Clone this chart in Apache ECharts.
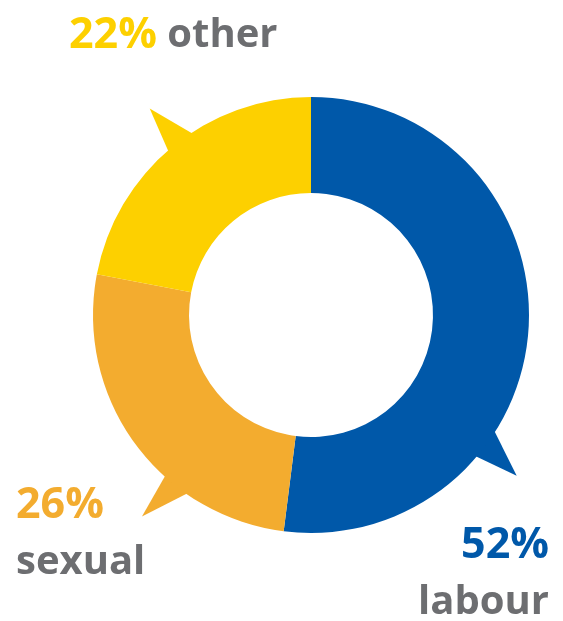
<!DOCTYPE html>
<html><head><meta charset="utf-8">
<script src="https://cdn.jsdelivr.net/npm/echarts@6/dist/echarts.min.js"></script>
<style>html,body{margin:0;padding:0;background:#fff}#c{width:563px;height:621px}</style>
</head><body><div id="c"></div>
<script>
const categories = ['labour', 'sexual', 'other'];
const values = [52, 26, 22];
const percentLabels = ['52%', '26%', '22%'];

const colors = ['#0058a9', '#f3ac2f', '#fdd000'];
const textGray = '#6d6e71';
const cx = 311, cy = 315, rIn = 122, rOut = 218;
// label anchor [x, y, align, template]
const labelPos = [
  [549, 517, 'right', '{v|P}\n{n|N}'],
  [16, 477, 'left', '{v|P}\n{n|N}'],
  [69, 7, 'left', '{v|P}{n| N}']
];
// speech-bubble tails: [base angle 1, base angle 2, tip angle, tip radius] (degrees, math convention)
const tails = [
  [-31.5, -41, -38, 261],
  [-132.5, -124, -130, 263],
  [131.5, 122.5, 128, 262]
];

const chart = echarts.init(document.getElementById('c'));
function pt(a, r) { const t = a * Math.PI / 180; return [cx + r * Math.cos(t), cy - r * Math.sin(t)]; }
const graphics = tails.map((t, i) => ({
  type: 'polygon', z: 1, silent: true,
  shape: { points: [pt(t[0], rOut - 6), pt(t[2], t[3]), pt(t[1], rOut - 6)] },
  style: { fill: colors[i] }
}));
const font = 'Open Sans';
categories.forEach((c, i) => {
  const l = labelPos[i];
  graphics.push({
    type: 'text', z: 5, silent: true, x: l[0], y: l[1],
    style: {
      text: l[3].replace('P', percentLabels[i]).replace('N', c),
      align: l[2], verticalAlign: 'top',
      rich: {
        v: { fontFamily: font, fontWeight: 'bold', fontSize: 43, fill: colors[i], lineHeight: 57, align: l[2] },
        n: { fontFamily: font, fontWeight: 'bold', fontSize: 40, fill: textGray, lineHeight: 57, align: l[2] }
      }
    }
  });
});

chart.setOption({
  animation: false,
  backgroundColor: '#fff',
  graphic: graphics,
  series: [{
    type: 'pie',
    z: 2,
    center: [cx, cy],
    radius: [rIn, rOut],
    startAngle: 90,
    clockwise: true,
    silent: true,
    emphasis: { disabled: true },
    label: { show: false },
    labelLine: { show: false },
    data: categories.map((c, i) => ({
      name: c, value: values[i],
      itemStyle: { color: colors[i] }
    }))
  }]
});
</script></body></html>
